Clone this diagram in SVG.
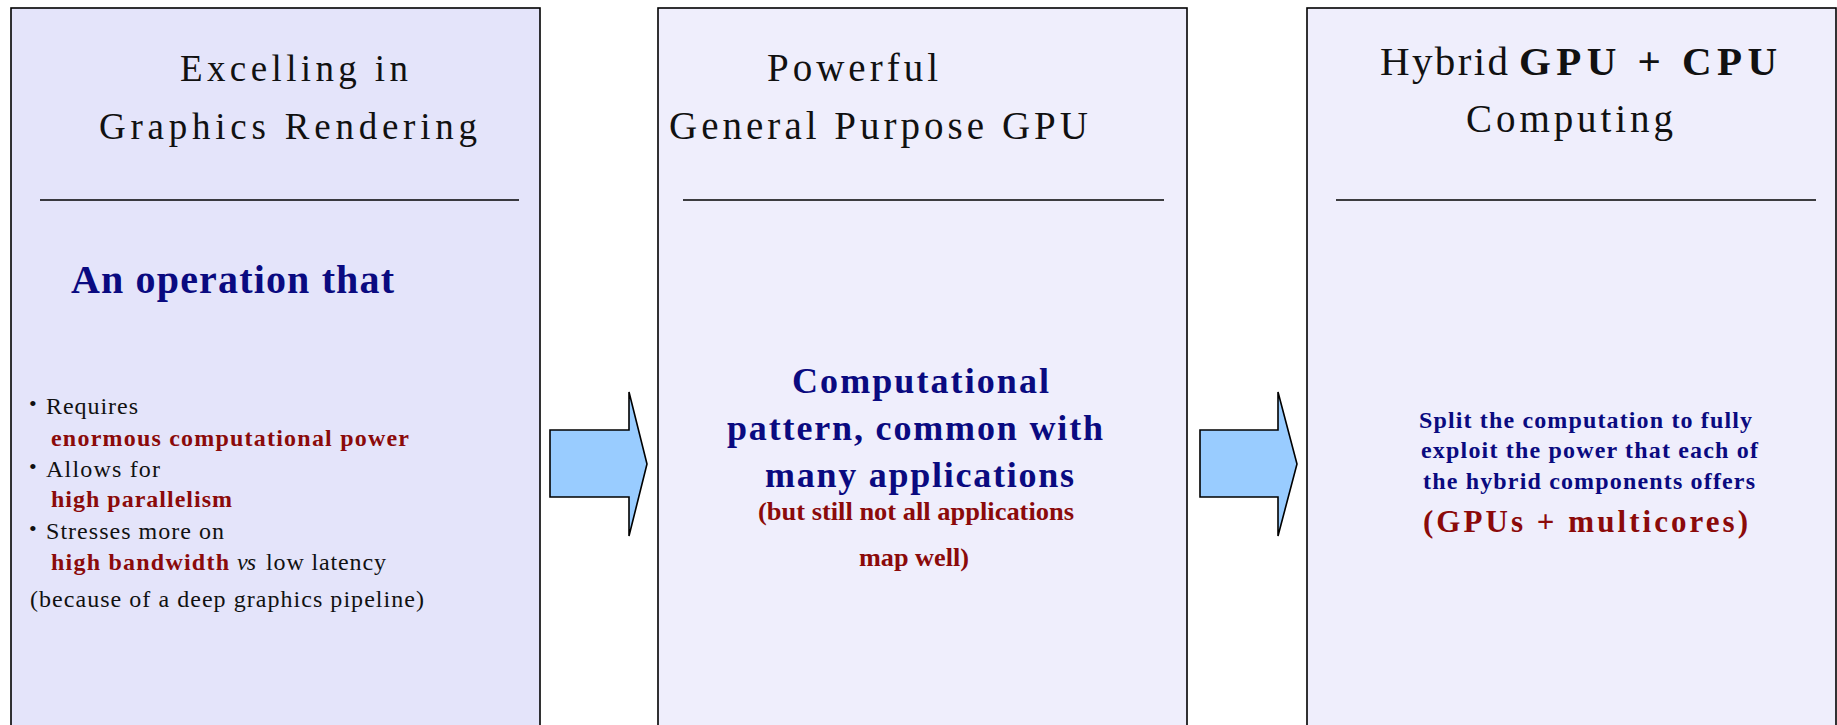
<svg xmlns="http://www.w3.org/2000/svg" width="1837" height="725" viewBox="0 0 1837 725">
  <style>
    text { font-family: "Liberation Serif", "DejaVu Serif", serif; }
    .panel { stroke: #000; stroke-width: 1.6; }
    .p1 { fill: #e4e4fa; }
    .p2 { fill: #efeefc; }
    .rule { stroke: #000; stroke-width: 1.6; }
    .title { font-size: 37px; fill: #111; }
    .lead { font-size: 40px; font-weight: bold; fill: #0a0a80; }
    .body { font-size: 24px; fill: #111; }
    .dot { font-size: 22px; fill: #111; }
    .hot { font-size: 24px; font-weight: bold; fill: #8b0a0a; }
    .big { font-size: 31px; font-weight: bold; fill: #8b0a0a; }
    .mid { font-size: 36px; font-weight: bold; fill: #0a0a80; }
    .small { font-size: 24px; font-weight: bold; fill: #0a0a80; }
    .arrow { fill: #99ccff; stroke: #000; stroke-width: 1.6; stroke-linejoin: miter; }
  </style>

  <rect width="1837" height="725" fill="#fff"/>

  <!-- Stage 1: graphics rendering -->
  <g id="stage-graphics">
    <rect class="panel p1" x="11" y="8" width="529" height="740"/>
    <text class="title" x="180" y="81" textLength="228" lengthAdjust="spacing">Excelling in</text>
    <text class="title" x="99" y="139" textLength="378" lengthAdjust="spacing">Graphics Rendering</text>
    <line class="rule" x1="40" y1="200" x2="519" y2="200"/>
    <text class="lead" x="71" y="293" textLength="323" lengthAdjust="spacing">An operation that</text>

    <text class="dot" x="29" y="411">•</text>
    <text class="body" x="46" y="414" textLength="92" lengthAdjust="spacing">Requires</text>
    <text class="hot" x="51" y="446" textLength="358" lengthAdjust="spacing">enormous computational power</text>

    <text class="dot" x="29" y="474">•</text>
    <text class="body" x="46" y="477" textLength="114" lengthAdjust="spacing">Allows for</text>
    <text class="hot" x="51" y="507" textLength="181" lengthAdjust="spacing">high parallelism</text>

    <text class="dot" x="29" y="536">•</text>
    <text class="body" x="46" y="539" textLength="178" lengthAdjust="spacing">Stresses more on</text>
    <text class="hot" x="51" y="570" textLength="178" lengthAdjust="spacing">high bandwidth</text>
    <text class="body" x="237" y="570" font-style="italic" textLength="19" lengthAdjust="spacing">vs</text>
    <text class="body" x="266" y="570" textLength="120" lengthAdjust="spacing">low latency</text>
    <text class="body" x="30" y="607" textLength="394" lengthAdjust="spacing">(because of a deep graphics pipeline)</text>
  </g>

  <!-- Stage 2: general purpose GPU -->
  <g id="stage-gpgpu">
    <rect class="panel p2" x="658" y="8" width="529" height="740"/>
    <text class="title" x="767" y="81" style="font-size:39px" textLength="171" lengthAdjust="spacing">Powerful</text>
    <text class="title" x="669" y="139" style="font-size:39px" textLength="419" lengthAdjust="spacing">General Purpose GPU</text>
    <line class="rule" x1="683" y1="200" x2="1164" y2="200"/>
    <text class="mid" x="792" y="393" textLength="257" lengthAdjust="spacing">Computational</text>
    <text class="mid" x="727" y="440" textLength="376" lengthAdjust="spacing">pattern, common with</text>
    <text class="mid" x="765" y="487" textLength="309" lengthAdjust="spacing">many applications</text>
    <text class="hot" x="758" y="520" style="font-size:25px" textLength="316" lengthAdjust="spacingAndGlyphs">(but still not all applications</text>
    <text class="hot" x="859" y="566" style="font-size:25px" textLength="110" lengthAdjust="spacingAndGlyphs">map well)</text>
  </g>

  <!-- Stage 3: hybrid GPU + CPU -->
  <g id="stage-hybrid">
    <rect class="panel p2" x="1307" y="8" width="529" height="740"/>
    <text class="title" x="1380" y="75" style="font-size:41px" textLength="128" lengthAdjust="spacing">Hybrid</text>
    <text class="title" x="1519" y="75" style="font-size:41px;font-weight:bold" textLength="258" lengthAdjust="spacing">GPU + CPU</text>
    <text class="title" x="1466" y="132" style="font-size:39px" textLength="207" lengthAdjust="spacing">Computing</text>
    <line class="rule" x1="1336" y1="200" x2="1816" y2="200"/>
    <text class="small" x="1419" y="428" textLength="333" lengthAdjust="spacing">Split the computation to fully</text>
    <text class="small" x="1421" y="458" textLength="337" lengthAdjust="spacing">exploit the power that each of</text>
    <text class="small" x="1423" y="489" textLength="332" lengthAdjust="spacing">the hybrid components offers</text>
    <text class="big" x="1423" y="532" textLength="325" lengthAdjust="spacing">(GPUs + multicores)</text>
  </g>

  <!-- Block arrows between stages -->
  <g id="connectors">
    <polygon class="arrow" points="550,430 629,430 629,392 647,464 629,536 629,497 550,497"/>
    <polygon class="arrow" points="1200,430 1278,430 1278,392 1297,464 1278,536 1278,497 1200,497"/>
  </g>
</svg>
